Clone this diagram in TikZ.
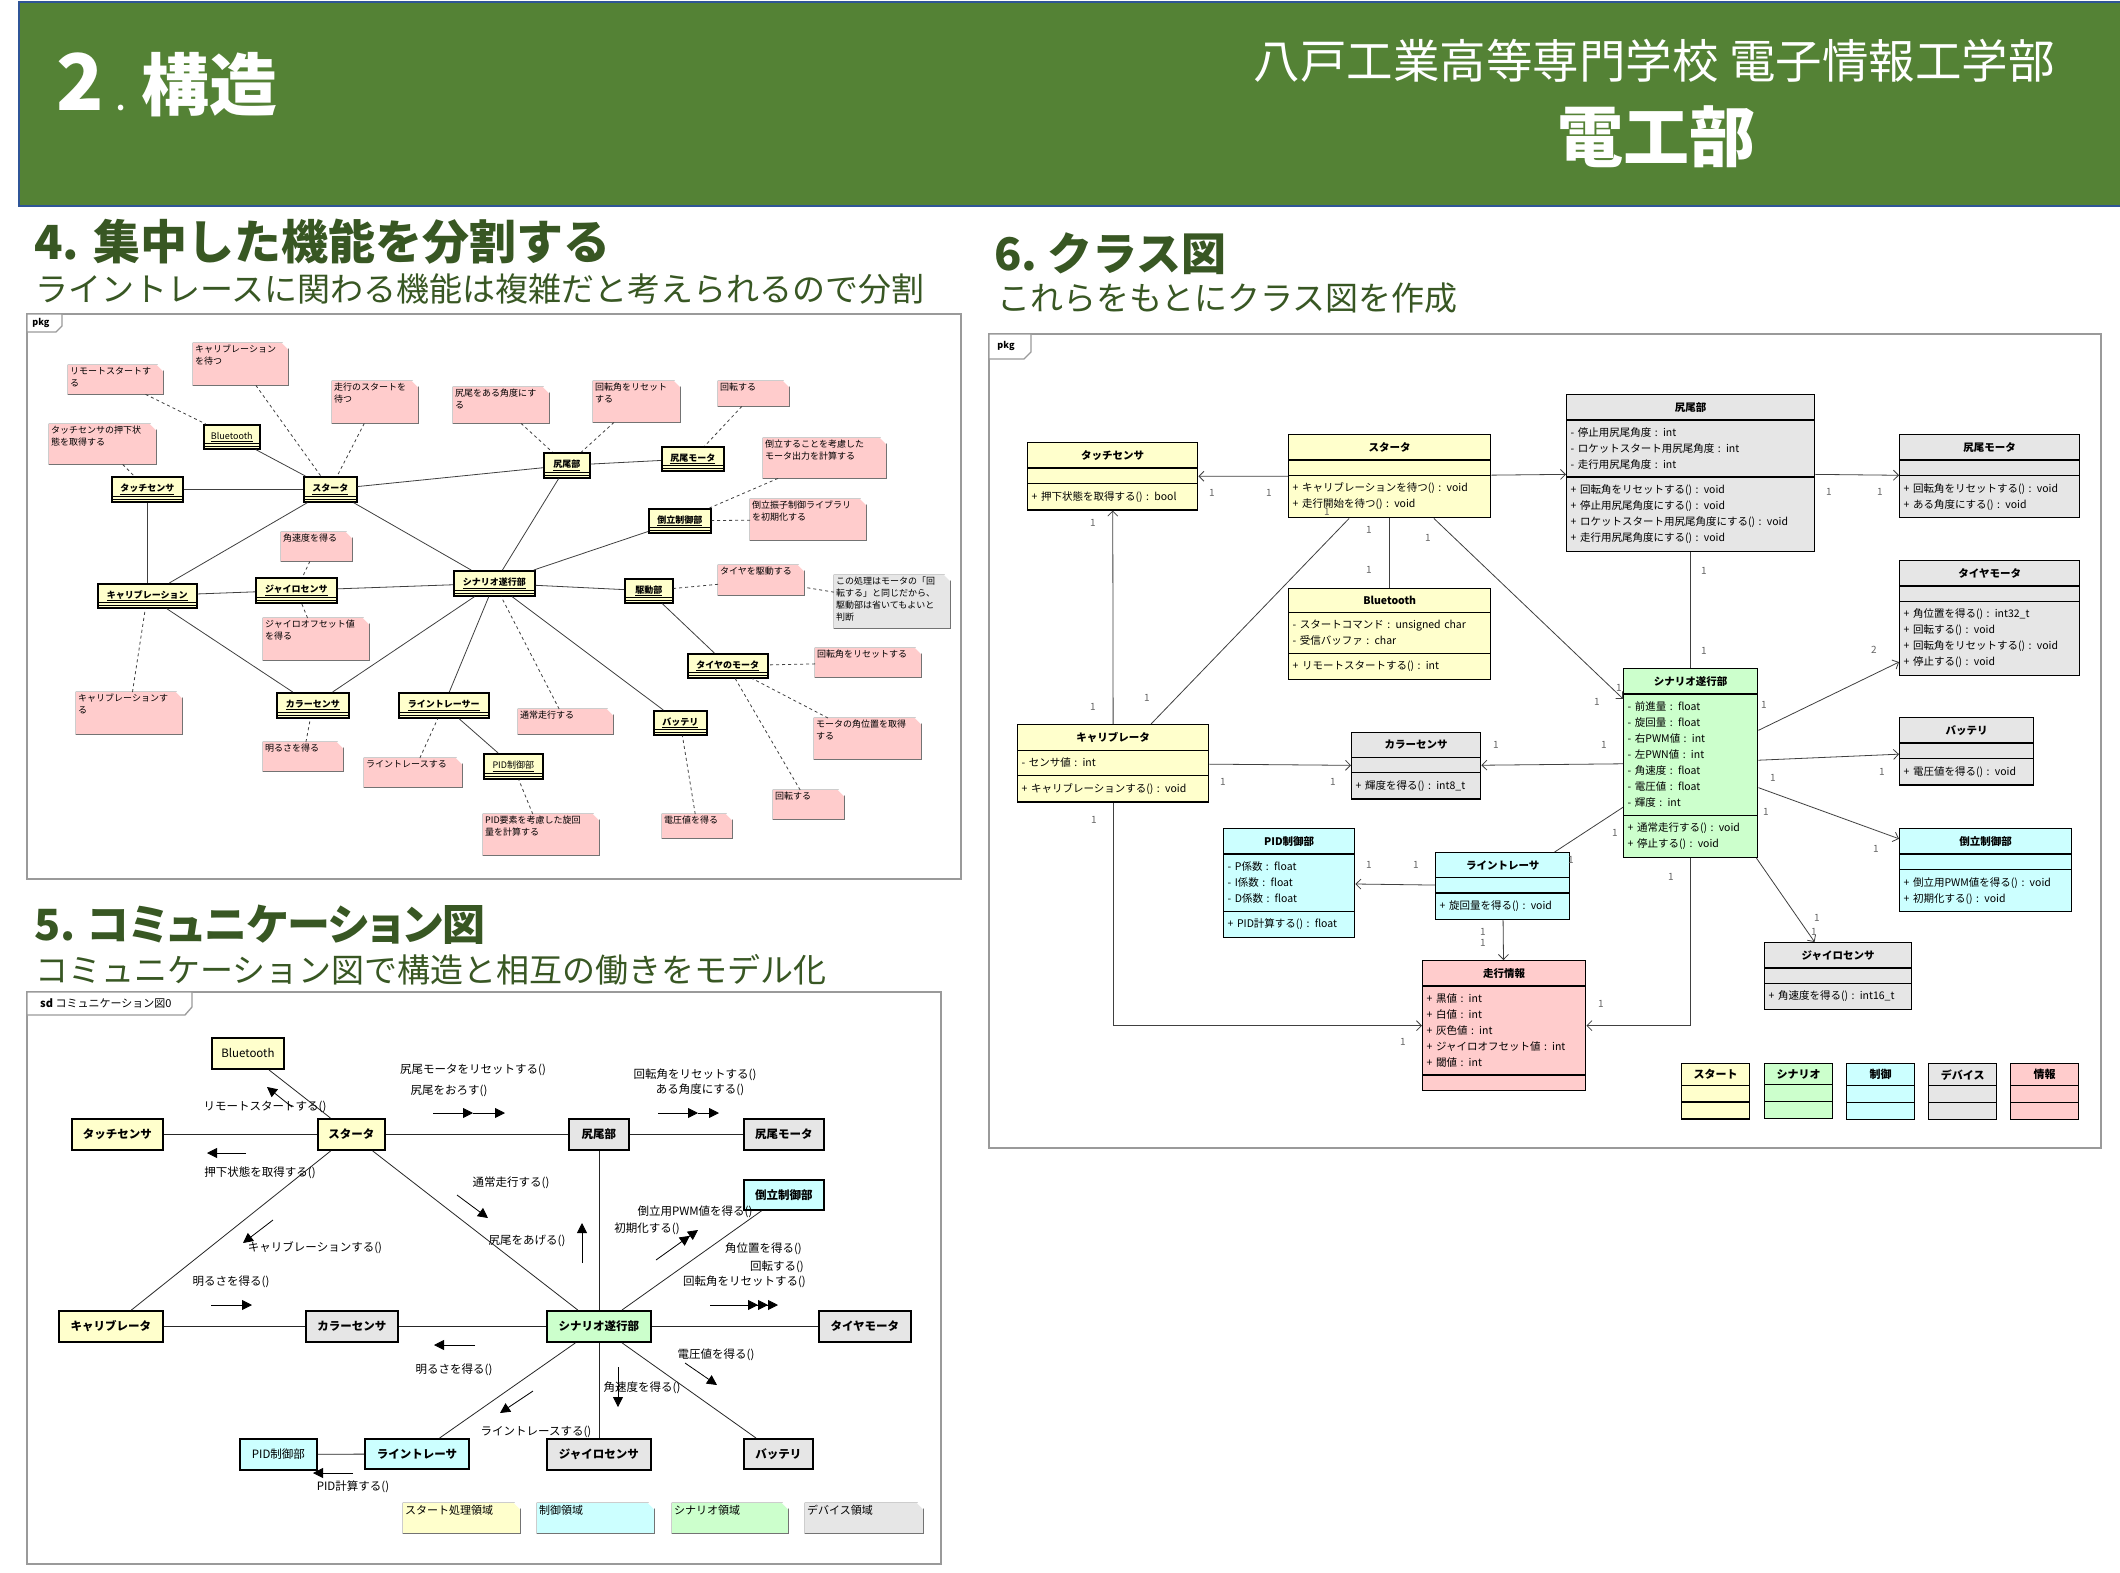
\documentclass[tikz,border=0pt]{standalone}
\usepackage{fontspec}
\setmainfont{Noto Sans CJK JP}
\newfontfamily\paltfont{Noto Sans CJK JP}[RawFeature=+palt]
\usetikzlibrary{arrows.meta, shapes.multipart}

\definecolor{hdrgreen}{HTML}{548235}
\definecolor{hdrblue}{HTML}{2F5597}
\definecolor{ttlgreen}{HTML}{385723}
\definecolor{objyellow}{HTML}{FFFFCC}
\definecolor{notepink}{HTML}{FFCCCC}
\definecolor{notegray}{HTML}{E6E6E6}
\definecolor{devgray}{HTML}{E6E6E6}
\definecolor{ctrlcyan}{HTML}{CCFFFF}
\definecolor{scengreen}{HTML}{CCFFCC}
\definecolor{framegray}{HTML}{9A9A9A}

\newcommand\clsname[1]{\hspace*{\fill}\textbf{#1}\hspace*{\fill}\null}

\tikzset{
  pkgframe/.style={draw=framegray, line width=1.3pt},
  tabshape/.style={pkgframe, fill=white},
  tabtext/.style={inner sep=0pt, font=\fontsize{9}{9}\selectfont\bfseries},
  heading/.style={anchor=base west, inner sep=0pt, text=ttlgreen, font=\bfseries\fontsize{46}{46}\selectfont},
  subheading/.style={anchor=base west, inner sep=0pt, text=ttlgreen, font=\fontsize{33}{33}\selectfont},
  % object diagram
  obj/.style={draw, line width=1.6pt, fill=objyellow, anchor=north west, inner sep=0pt,
    font=\fontsize{9}{9}\selectfont\bfseries,
    path picture={\draw[line width=.7pt]
      ([yshift=5pt]path picture bounding box.south west) -- ([yshift=5pt]path picture bounding box.south east)
      ([yshift=2.5pt]path picture bounding box.south west) -- ([yshift=2.5pt]path picture bounding box.south east);}},
  note/.style={fill=notepink, anchor=north west, inner sep=0pt,
    path picture={\fill[white] ([xshift=-6pt]path picture bounding box.north east)
      -- (path picture bounding box.north east) -- ([yshift=-6pt]path picture bounding box.north east) -- cycle;},
    append after command={\pgfextra{\draw[draw=black!55, line width=.7pt]
      (\tikzlastnode.north west) -- ([xshift=-6pt]\tikzlastnode.north east)
      -- ([yshift=-6pt]\tikzlastnode.north east) -- (\tikzlastnode.south east)
      -- (\tikzlastnode.south west) -- cycle
      ([xshift=-6pt]\tikzlastnode.north east) |- ([yshift=-6pt]\tikzlastnode.north east);}}},
  nt/.style={anchor=north west, align=left, inner xsep=2pt, inner ysep=2pt, font=\fontsize{9}{12}\selectfont},
  link/.style={draw=black!75, line width=.8pt},
  anch/.style={link, dash pattern=on 3pt off 3pt},
  % communication diagram
  cobj/.style={draw, line width=1.8pt, anchor=north west, inner sep=0pt, font=\fontsize{11.5}{12}\selectfont\bfseries},
  clink/.style={draw=black!85, line width=.8pt},
  msg/.style={draw=black, line width=.8pt, -{Triangle[length=10pt, width=10pt]}},
  msgtwo/.style={msg, -{Triangle[length=10pt, width=10pt] Triangle[length=10pt, width=10pt]}},
  msgthree/.style={msg, -{Triangle[length=10pt, width=10pt] Triangle[length=10pt, width=10pt] Triangle[length=10pt, width=10pt]}},
  msgtxt/.style={inner sep=0pt, font=\fontsize{11.5}{12}\selectfont},
  % class diagram
  cls/.style={rectangle split, rectangle split parts=3, draw, line width=1.4pt, anchor=north west,
    inner xsep=4pt, inner ysep=7pt, align=left, font=\fontsize{10.5}{16}\selectfont},
  legendbox/.style={rectangle split, rectangle split parts=3, draw, line width=1.4pt, anchor=north west,
    inner xsep=2pt, inner ysep=5pt, minimum width=68, rectangle split empty part height=1pt,
    font=\fontsize{11}{12}\selectfont\bfseries},
  nav/.style={link, -{Straight Barb[length=5pt, width=10pt]}},
  mult/.style={inner sep=0pt, text=black!60, font=\fontsize{10}{10}\selectfont}
}

\begin{document}
\begin{tikzpicture}[x=1pt, y=-1pt]
  \useasboundingbox (0,0) rectangle (2120,1572);
  \fill[white] (0,0) rectangle (2120,1572);

  % header
  \fill[hdrgreen] (19,2) rectangle (2124,206);
  \draw[hdrblue, line width=2.5pt] (19,2) rectangle (2124,206);
  \node[anchor=base west, inner sep=0pt, text=white, font=\bfseries\fontsize{68}{68}\selectfont] (chapter) at (56,110)
    {{\fontsize{78}{78}\selectfont 2}\hspace{13pt}{\fontsize{26}{26}\selectfont .}\hspace{16pt}構造};
  \node[anchor=base east, inner sep=0pt, text=white, font=\fontsize{46.5}{46.5}\selectfont] (school) at (2055,78)
    {八戸工業高等専門学校 電子情報工学部};
  \node[inner sep=0pt, text=white, font=\bfseries\fontsize{66}{66}\selectfont] (club) at (1656,137) {電工部};

  % headings
  \node[heading, font=\bfseries\fontsize{47}{47}\selectfont] (sec4) at (34,259) {4.\hspace{14pt}集中した機能を分割する};
  \node[subheading] (sub4) at (35,301) {ライントレースに関わる機能は複雑だと考えられるので分割};
  \node[heading, font=\paltfont\bfseries\fontsize{43}{43}\selectfont] (sec5) at (34,940) {5.\hspace{12pt}コミュニケーション図};
  \node[subheading] (sub5) at (35,982) {コミュニケーション図で構造と相互の働きをモデル化};
  \node[heading, font=\bfseries\fontsize{45}{45}\selectfont] (sec6) at (994,270) {6.\hspace{10pt}クラス図};
  \node[subheading] (sub6) at (997,310) {これらをもとにクラス図を作成};

  % ---------------- 4. object diagram ----------------
  \draw[pkgframe] (27,314) rectangle (961,879);
  \draw[tabshape] (27,314) -- (62,314) -- (62,326) -- (56,332) -- (27,332) -- cycle;
  \node[tabtext] (tab4) at (41,323) {pkg};

  \node[obj, minimum width=71, minimum height=25] (o4touch) at (111,476) {\underline{タッチセンサ}};
  \node[obj, minimum width=56, minimum height=24, font=\fontsize{9}{9}\selectfont] (o4bt) at (203,424) {\underline{Bluetooth}};
  \node[obj, minimum width=53, minimum height=25] (o4start) at (303,476) {\underline{スタータ}};
  \node[obj, minimum width=99, minimum height=24] (o4calib) at (97,583) {\underline{キャリブレーション}};
  \node[obj, minimum width=81, minimum height=25] (o4gyro) at (255,577) {\underline{ジャイロセンサ}};
  \node[obj, minimum width=81, minimum height=25] (o4scen) at (453,570) {\underline{シナリオ遂行部}};
  \node[obj, minimum width=46, minimum height=25] (o4tail) at (543,452) {\underline{尻尾部}};
  \node[obj, minimum width=62, minimum height=24] (o4tailm) at (661,446) {\underline{尻尾モータ}};
  \node[obj, minimum width=62, minimum height=24] (o4inv) at (648,508) {\underline{倒立制御部}};
  \node[obj, minimum width=48, minimum height=24] (o4drive) at (624,578) {\underline{駆動部}};
  \node[obj, minimum width=80, minimum height=24] (o4tire) at (687,653) {\underline{タイヤのモータ}};
  \node[obj, minimum width=72, minimum height=25] (o4color) at (276,692) {\underline{カラーセンサ}};
  \node[obj, minimum width=90, minimum height=25] (o4lt) at (398,692) {\underline{ライントレーサー}};
  \node[obj, minimum width=59, minimum height=25, font=\fontsize{9}{9}\selectfont] (o4pid) at (483,753) {\underline{PID制御部}};
  \node[obj, minimum width=53, minimum height=24] (o4batt) at (653,710) {\underline{バッテリ}};

  \node[note, minimum width=95, minimum height=29, label={[nt]north west:{リモートスタートす\\る}}] (n4remote) at (68,365) {};
  \node[note, minimum width=95, minimum height=42, label={[nt]north west:{キャリブレーション\\を待つ}}] (n4calwait) at (193,343) {};
  \node[note, minimum width=86, minimum height=42, label={[nt]north west:{走行のスタートを\\待つ}}] (n4runwait) at (332,381) {};
  \node[note, minimum width=96, minimum height=36, label={[nt]north west:{尻尾をある角度にす\\る}}] (n4tailang) at (453,387) {};
  \node[note, minimum width=107, minimum height=40, label={[nt]north west:{タッチセンサの押下状\\態を取得する}}] (n4touch) at (49,424) {};
  \node[note, minimum width=87, minimum height=41, label={[nt]north west:{回転角をリセット\\する}}] (n4reset) at (593,381) {};
  \node[note, minimum width=71, minimum height=25, label={[nt]north west:{回転する}}] (n4rot) at (718,381) {};
  \node[note, minimum width=123, minimum height=40, label={[nt]north west:{倒立することを考慮した\\モータ出力を計算する}}] (n4invcalc) at (763,438) {};
  \node[note, minimum width=116, minimum height=41, label={[nt]north west:{倒立振子制御ライブラリ\\を初期化する}}] (n4invlib) at (750,499) {};
  \node[note, minimum width=86, minimum height=30, label={[nt]north west:{タイヤを駆動する}}] (n4drive) at (718,565) {};
  \node[note, fill=notegray, minimum width=116, minimum height=53, label={[nt]north west:{この処理はモータの「回\\転する」と同じだから、\\駆動部は省いてもよいと\\判断}}] (n4cmt) at (834,575) {};
  \node[note, minimum width=71, minimum height=29, label={[nt]north west:{角速度を得る}}] (n4angvel) at (281,532) {};
  \node[note, minimum width=106, minimum height=42, label={[nt]north west:{ジャイロオフセット値\\を得る}}] (n4gyroff) at (263,618) {};
  \node[note, minimum width=106, minimum height=42, label={[nt]north west:{キャリブレーションす\\る}}] (n4calib) at (76,692) {};
  \node[note, minimum width=80, minimum height=29, label={[nt]north west:{明るさを得る}}] (n4bright) at (263,742) {};
  \node[note, minimum width=98, minimum height=29, label={[nt]north west:{ライントレースする}}] (n4trace) at (364,758) {};
  \node[note, minimum width=116, minimum height=41, label={[nt]north west:{PID要素を考慮した旋回\\量を計算する}}] (n4pidcalc) at (483,814) {};
  \node[note, minimum width=95, minimum height=25, label={[nt]north west:{通常走行する}}] (n4normal) at (518,709) {};
  \node[note, minimum width=70, minimum height=24, label={[nt]north west:{電圧値を得る}}] (n4volt) at (662,814) {};
  \node[note, minimum width=106, minimum height=29, label={[nt]north west:{回転角をリセットする}}] (n4tirereset) at (815,648) {};
  \node[note, minimum width=107, minimum height=41, label={[nt]north west:{モータの角位置を取得\\する}}] (n4angpos) at (814,718) {};
  \node[note, minimum width=71, minimum height=29, label={[nt]north west:{回転する}}] (n4tirerot) at (773,790) {};

  \draw[link] (o4touch) -- (o4start);
  \draw[link] (o4bt) -- (o4start);
  \draw[link] (o4touch) -- (o4calib);
  \draw[link] (o4start) -- (o4calib);
  \draw[link] (o4start) -- (o4scen);
  \draw[link] (o4start) -- (o4tail);
  \draw[link] (o4calib) -- (o4gyro);
  \draw[link] (o4gyro) -- (o4scen);
  \draw[link] (o4calib) -- (o4color);
  \draw[link] (o4scen) -- (o4color);
  \draw[link] (o4scen) -- (o4lt);
  \draw[link] (o4scen) -- (o4tail);
  \draw[link] (o4tail) -- (o4tailm);
  \draw[link] (o4scen) -- (o4inv);
  \draw[link] (o4scen) -- (o4drive);
  \draw[link] (o4drive) -- (o4tire);
  \draw[link] (o4scen) -- (o4batt);
  \draw[link] (o4lt) -- (o4pid);

  \draw[anch] (n4remote) -- (o4bt);
  \draw[anch] (n4calwait) -- (o4start);
  \draw[anch] (n4runwait) -- (o4start);
  \draw[anch] (n4touch) -- (o4touch);
  \draw[anch] (n4tailang) -- (o4tail);
  \draw[anch] (n4reset) -- (o4tail);
  \draw[anch] (n4rot) -- (o4tailm);
  \draw[anch] (n4invcalc) -- (o4inv);
  \draw[anch] (n4invlib) -- (o4inv);
  \draw[anch] (n4angvel) -- (o4gyro);
  \draw[anch] (n4gyroff) -- (o4gyro);
  \draw[anch] (n4calib) -- (o4calib);
  \draw[anch] (n4bright) -- (o4color);
  \draw[anch] (n4trace) -- (o4lt);
  \draw[anch] (n4normal) -- (o4scen);
  \draw[anch] (n4drive) -- (o4drive);
  \draw[anch] (n4cmt) -- (n4drive);
  \draw[anch] (n4pidcalc) -- (o4pid);
  \draw[anch] (n4volt) -- (o4batt);
  \draw[anch] (n4tirereset) -- (o4tire);
  \draw[anch] (n4angpos) -- (o4tire);
  \draw[anch] (n4tirerot) -- (o4tire);

  % ---------------- 5. communication diagram ----------------
  \draw[pkgframe] (27,992) rectangle (941,1564);
  \draw[tabshape] (27,992) -- (192,992) -- (192,1007) -- (185,1015) -- (27,1015) -- cycle;
  \node[tabtext, anchor=west, font=\fontsize{11}{11}\selectfont] (tab5) at (40,1004) {\textbf{sd} コミュニケーション図0};

  \node[cobj, fill=objyellow, minimum width=72, minimum height=31, font=\fontsize{11.5}{12}\selectfont] (c5bt) at (211,1037) {Bluetooth};
  \node[cobj, fill=objyellow, minimum width=91, minimum height=31] (c5touch) at (71,1118) {タッチセンサ};
  \node[cobj, fill=objyellow, minimum width=67, minimum height=31] (c5start) at (317,1118) {スタータ};
  \node[cobj, fill=devgray, minimum width=60, minimum height=31] (c5tail) at (568,1118) {尻尾部};
  \node[cobj, fill=devgray, minimum width=80, minimum height=31] (c5tailm) at (743,1118) {尻尾モータ};
  \node[cobj, fill=ctrlcyan, minimum width=80, minimum height=30] (c5inv) at (743,1179) {倒立制御部};
  \node[cobj, fill=objyellow, minimum width=104, minimum height=31] (c5calib) at (58,1310) {キャリブレータ};
  \node[cobj, fill=devgray, minimum width=92, minimum height=31] (c5color) at (305,1310) {カラーセンサ};
  \node[cobj, fill=scengreen, minimum width=104, minimum height=31] (c5scen) at (546,1310) {シナリオ遂行部};
  \node[cobj, fill=devgray, minimum width=92, minimum height=31] (c5tire) at (818,1310) {タイヤモータ};
  \node[cobj, fill=ctrlcyan, minimum width=77, minimum height=31, font=\fontsize{11.5}{12}\selectfont] (c5pid) at (239,1438) {PID制御部};
  \node[cobj, fill=ctrlcyan, minimum width=104, minimum height=30] (c5lt) at (364,1438) {ライントレーサ};
  \node[cobj, fill=devgray, minimum width=104, minimum height=31] (c5gyro) at (546,1438) {ジャイロセンサ};
  \node[cobj, fill=devgray, minimum width=69, minimum height=30] (c5batt) at (743,1438) {バッテリ};

  \draw[clink] (c5touch) -- (c5start);
  \draw[clink] (c5bt) -- (c5start);
  \draw[clink] (c5start) -- (c5tail);
  \draw[clink] (c5tail) -- (c5tailm);
  \draw[clink] (c5start) -- (c5calib);
  \draw[clink] (c5start) -- (c5scen);
  \draw[clink] (c5tail) -- (c5scen);
  \draw[clink] (c5inv) -- (c5scen);
  \draw[clink] (c5calib) -- (c5color);
  \draw[clink] (c5color) -- (c5scen);
  \draw[clink] (c5scen) -- (c5tire);
  \draw[clink] (c5scen) -- (c5lt);
  \draw[clink] (c5scen) -- (c5gyro);
  \draw[clink] (c5scen) -- (c5batt);
  \draw[clink] (c5lt) -- (c5pid);

  % messages
  \node[msgtxt] (m5remote) at (265,1107) {リモートスタートする()};
  \node[msgtxt] (m5tailreset) at (473,1070) {尻尾モータをリセットする()};
  \node[msgtxt] (m5taildown) at (449,1091) {尻尾をおろす()};
  \node[msgtxt] (m5push) at (260,1173) {押下状態を取得する()};
  \node[msgtxt] (m5normal) at (511,1183) {通常走行する()};
  \node[msgtxt] (m5calib) at (315,1248) {キャリブレーションする()};
  \node[msgtxt] (m5bright) at (231,1282) {明るさを得る()};
  \node[msgtxt] (m5tailup) at (527,1241) {尻尾をあげる()};
  \node[msgtxt] (m5rotreset) at (695,1075) {回転角をリセットする()};
  \node[msgtxt] (m5angle) at (700,1090) {ある角度にする()};
  \node[msgtxt] (m5pwm) at (695,1212) {倒立用PWM値を得る()};
  \node[msgtxt] (m5init) at (647,1229) {初期化する()};
  \node[msgtxt, anchor=east] (m5angpos) at (802,1249) {角位置を得る()};
  \node[msgtxt, anchor=east] (m5rot) at (804,1267) {回転する()};
  \node[msgtxt, anchor=east] (m5tirereset) at (806,1282) {回転角をリセットする()};
  \node[msgtxt] (m5brightb) at (454,1370) {明るさを得る()};
  \node[msgtxt] (m5pid) at (353,1487) {PID計算する()};
  \node[msgtxt] (m5volt) at (716,1355) {電圧値を得る()};
  \node[msgtxt] (m5angvel) at (642,1388) {角速度を得る()};
  \node[msgtxt] (m5trace) at (536,1432) {ライントレースする()};

  \draw[msg] (292,1107) -- (267,1087);
  \draw[msg] (433,1113) -- (473,1113);
  \draw[msg] (473,1113) -- (505,1113);
  \draw[msg] (246,1153) -- (207,1153);
  \draw[msg] (658,1113) -- (698,1113);
  \draw[msg] (698,1113) -- (719,1113);
  \draw[msg] (457,1195) -- (488,1218);
  \draw[msg] (273,1220) -- (243,1243);
  \draw[msg] (582,1263) -- (582,1223);
  \draw[msgtwo] (656,1260) -- (698,1230);
  \draw[msg] (211,1305) -- (252,1305);
  \draw[msg] (475,1345) -- (434,1345);
  \draw[msgthree] (710,1305) -- (778,1305);
  \draw[msg] (685,1363) -- (717,1385);
  \draw[msg] (618,1367) -- (618,1407);
  \draw[msg] (533,1391) -- (500,1413);
  \draw[msg] (353,1473) -- (313,1473);

  % legend
  \node[note, fill=objyellow, minimum width=117, minimum height=30, label={[nt, font=\fontsize{11}{12}\selectfont]north west:{スタート処理領域}}] (c5lgstart) at (403,1503) {};
  \node[note, fill=ctrlcyan, minimum width=117, minimum height=30, label={[nt, font=\fontsize{11}{12}\selectfont]north west:{制御領域}}] (c5lgctrl) at (537,1503) {};
  \node[note, fill=scengreen, minimum width=116, minimum height=30, label={[nt, font=\fontsize{11}{12}\selectfont]north west:{シナリオ領域}}] (c5lgscen) at (672,1503) {};
  \node[note, fill=devgray, minimum width=118, minimum height=30, label={[nt, font=\fontsize{11}{12}\selectfont]north west:{デバイス領域}}] (c5lgdev) at (805,1503) {};

  % ---------------- 6. class diagram ----------------
  \draw[pkgframe] (989,334) rectangle (2101,1148);
  \draw[tabshape] (989,334) -- (1031,334) -- (1031,352) -- (1024,359) -- (989,359) -- cycle;
  \node[tabtext] (tab6) at (1006,346) {pkg};

  \node[cls, fill=objyellow, text width=162] (c6touch) at (1027,442)
    {\clsname{タッチセンサ}\nodepart{two}\nodepart{three}+ 押下状態を取得する() : bool};
  \node[cls, fill=objyellow, text width=194] (c6start) at (1288,434)
    {\clsname{スタータ}\nodepart{two}\nodepart{three}+ キャリブレーションを待つ() : void\\+ 走行開始を待つ() : void};
  \node[cls, fill=objyellow, text width=194] (c6bt) at (1288,588)
    {\clsname{Bluetooth}\nodepart{two}- スタートコマンド : unsigned char\\- 受信バッファ : char\nodepart{three}+ リモートスタートする() : int};
  \node[cls, fill=objyellow, text width=183] (c6calib) at (1017,724)
    {\clsname{キャリブレータ}\nodepart{two}- センサ値 : int\nodepart{three}+ キャリブレーションする() : void};
  \node[cls, fill=devgray, text width=240] (c6tail) at (1566,394)
    {\clsname{尻尾部}\nodepart{two}- 停止用尻尾角度 : int\\- ロケットスタート用尻尾角度 : int\\- 走行用尻尾角度 : int
     \nodepart{three}+ 回転角をリセットする() : void\\+ 停止用尻尾角度にする() : void\\+ ロケットスタート用尻尾角度にする() : void\\+ 走行用尻尾角度にする() : void};
  \node[cls, fill=devgray, text width=172] (c6tailm) at (1899,434)
    {\clsname{尻尾モータ}\nodepart{two}\nodepart{three}+ 回転角をリセットする() : void\\+ ある角度にする() : void};
  \node[cls, fill=devgray, text width=172] (c6tire) at (1899,560)
    {\clsname{タイヤモータ}\nodepart{two}\nodepart{three}+ 角位置を得る() : int32\_t\\+ 回転する() : void\\+ 回転角をリセットする() : void\\+ 停止する() : void};
  \node[cls, fill=devgray, text width=126] (c6batt) at (1899,717)
    {\clsname{バッテリ}\nodepart{two}\nodepart{three}+ 電圧値を得る() : void};
  \node[cls, fill=ctrlcyan, text width=164] (c6inv) at (1899,828)
    {\clsname{倒立制御部}\nodepart{two}\nodepart{three}+ 倒立用PWM値を得る() : void\\+ 初期化する() : void};
  \node[cls, fill=devgray, text width=139] (c6gyro) at (1764,942)
    {\clsname{ジャイロセンサ}\nodepart{two}\nodepart{three}+ 角速度を得る() : int16\_t};
  \node[cls, fill=scengreen, text width=126] (c6scen) at (1623,668)
    {\clsname{シナリオ遂行部}\nodepart{two}- 前進量 : float\\- 旋回量 : float\\- 右PWM値 : int\\- 左PWN値 : int\\- 角速度 : float\\- 電圧値 : float\\- 輝度 : int
     \nodepart{three}+ 通常走行する() : void\\+ 停止する() : void};
  \node[cls, fill=devgray, text width=121] (c6color) at (1351,732)
    {\clsname{カラーセンサ}\nodepart{two}\nodepart{three}+ 輝度を得る() : int8\_t};
  \node[cls, fill=ctrlcyan, text width=123] (c6pid) at (1223,828)
    {\clsname{PID制御部}\nodepart{two}- P係数 : float\\- I係数 : float\\- D係数 : float\nodepart{three}+ PID計算する() : float};
  \node[cls, fill=ctrlcyan, text width=126] (c6lt) at (1435,852)
    {\clsname{ライントレーサ}\nodepart{two}\nodepart{three}+ 旋回量を得る() : void};
  \node[cls, fill=notepink, text width=155] (c6info) at (1422,960)
    {\clsname{走行情報}\nodepart{two}+ 黒値 : int\\+ 白値 : int\\+ 灰色値 : int\\+ ジャイロオフセット値 : int\\+ 閾値 : int\nodepart{three}};

  \node[legendbox, fill=objyellow] (c6lgstart) at (1681,1063) {スタート\nodepart{two}\nodepart{three}};
  \node[legendbox, fill=scengreen] (c6lgscen) at (1764,1063) {シナリオ\nodepart{two}\nodepart{three}};
  \node[legendbox, fill=ctrlcyan] (c6lgctrl) at (1846,1063) {制御\nodepart{two}\nodepart{three}};
  \node[legendbox, fill=devgray] (c6lgdev) at (1928,1063) {デバイス\nodepart{two}\nodepart{three}};
  \node[legendbox, fill=notepink] (c6lginfo) at (2010,1063) {情報\nodepart{two}\nodepart{three}};

  \draw[nav] (c6start) -- (c6touch);
  \draw[nav] (c6calib) -- (c6touch);
  \draw[link] (c6start) -- (c6calib);
  \draw[link] (c6start) -- (c6bt);
  \draw[nav] (c6start) -- (c6scen);
  \draw[nav] (c6start) -- (c6tail);
  \draw[nav] (c6tail) -- (c6tailm);
  \draw[link] (c6tail) -- (c6scen);
  \draw[nav] (c6scen) -- (c6tire);
  \draw[nav] (c6scen) -- (c6batt);
  \draw[nav] (c6scen) -- (c6inv);
  \draw[nav] (c6scen) -- (c6gyro);
  \draw[nav] (c6scen) -- (c6color);
  \draw[nav] (c6calib) -- (c6color);
  \draw[link] (c6scen) -- (c6lt);
  \draw[nav] (c6lt) -- (c6pid);
  \draw[nav] (c6lt) -- (c6info);
  \draw[nav] (c6calib) |- (c6info);
  \draw[nav] (c6scen) |- (c6info);

  % multiplicities
  \foreach \mx/\my [count=\i] in {1212/493, 1269/493, 1093/523, 1093/707, 1147/698, 1327/512, 1369/530, 1369/570,
      1428/538, 1597/702, 1619/688, 1604/745, 1496/745, 1615/833, 1571/860, 1704/571, 1704/651, 1829/492,
      1880/492, 1764/705, 1773/778, 1882/772, 1766/812, 1876/849, 1817/918, 1814/932, 1223/782, 1333/782,
      1369/865, 1416/865, 1483/932, 1483/943, 1094/820, 1403/1042, 1671/877, 1601/1004}
    \node[mult] (mult\i) at (\mx,\my) {1};
  \node[mult] (multtwo) at (1874,650) {2};
\end{tikzpicture}
\end{document}
